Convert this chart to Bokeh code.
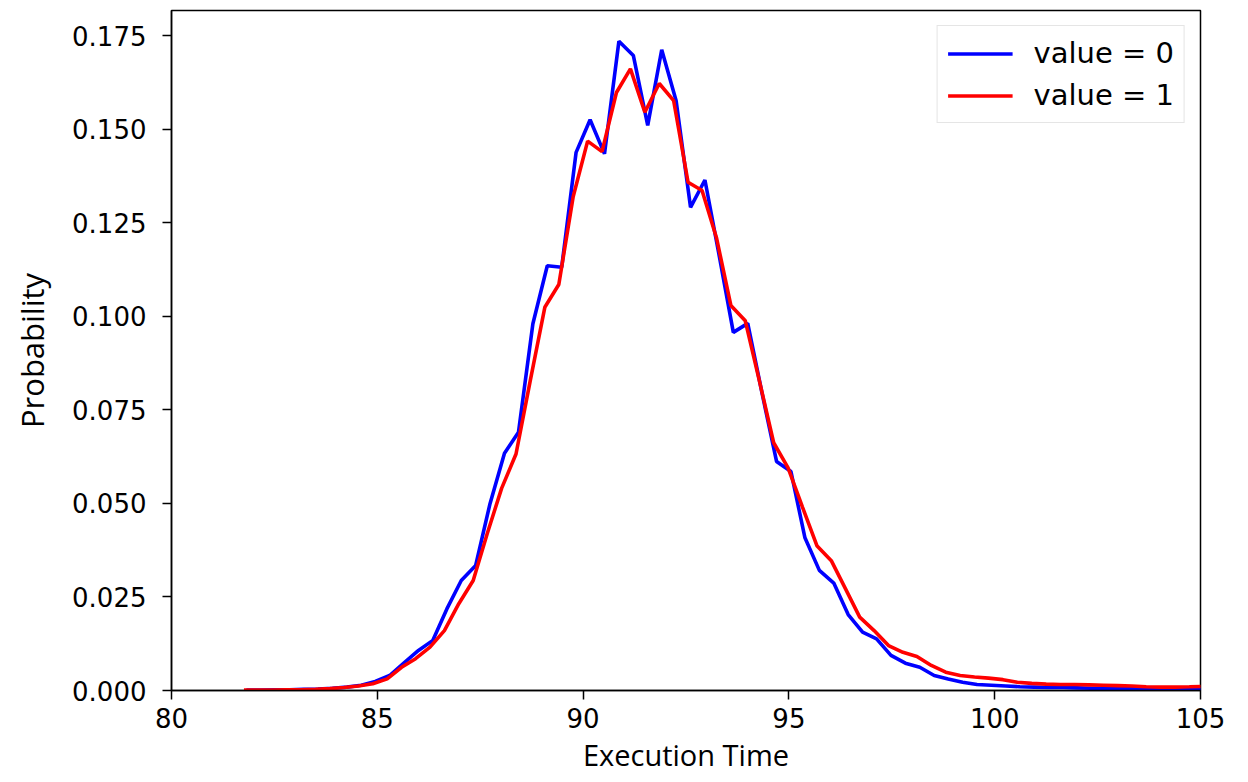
from bokeh.plotting import figure
from bokeh.models import Range1d, FixedTicker, PrintfTickFormatter, Legend, LegendItem
from bokeh.embed import file_html
from bokeh.resources import INLINE

blue_x = [81.82, 82.17, 82.52, 82.87, 83.21, 83.56, 83.91, 84.26, 84.61, 84.95,
          85.30, 85.65, 86.00, 86.35, 86.69, 87.04, 87.39, 87.74, 88.09, 88.43,
          88.78, 89.13, 89.48, 89.83, 90.17, 90.52, 90.87, 91.22, 91.57, 91.91,
          92.26, 92.61, 92.96, 93.31, 93.65, 94.00, 94.35, 94.70, 95.05, 95.39,
          95.74, 96.09, 96.44, 96.79, 97.13, 97.48, 97.83, 98.18, 98.53, 98.87,
          99.22, 99.57, 99.92, 100.27, 100.61, 100.96, 101.31, 101.66, 102.01, 102.35,
          102.70, 103.05, 103.40, 103.75, 104.09, 104.44, 104.79, 105.14]
blue_y = [0.0001, 0.0001, 0.0002, 0.0002, 0.0003, 0.0004, 0.0006, 0.0009, 0.0014, 0.0024,
          0.0040, 0.0074, 0.0107, 0.0134, 0.0218, 0.0294, 0.0334, 0.0500, 0.0634, 0.0690,
          0.0980, 0.1135, 0.1131, 0.1438, 0.1525, 0.1434, 0.1735, 0.1697, 0.1510, 0.1712,
          0.1576, 0.1291, 0.1364, 0.1160, 0.0957, 0.0981, 0.0793, 0.0612, 0.0585, 0.0408,
          0.0321, 0.0287, 0.0203, 0.0156, 0.0138, 0.0094, 0.0073, 0.0062, 0.0040, 0.0031,
          0.0022, 0.0016, 0.0014, 0.0012, 0.0010, 0.0009, 0.0008, 0.0008, 0.0007, 0.0006,
          0.0006, 0.0005, 0.0005, 0.0004, 0.0004, 0.0003, 0.0003, 0.0003]

red_x = [81.76, 82.11, 82.45, 82.80, 83.15, 83.50, 83.85, 84.19, 84.54, 84.89,
         85.24, 85.59, 85.93, 86.28, 86.63, 86.98, 87.33, 87.67, 88.02, 88.37,
         88.72, 89.07, 89.41, 89.76, 90.11, 90.46, 90.81, 91.15, 91.50, 91.85,
         92.20, 92.55, 92.89, 93.24, 93.59, 93.94, 94.29, 94.63, 94.98, 95.33,
         95.68, 96.03, 96.37, 96.72, 97.07, 97.42, 97.77, 98.11, 98.46, 98.81,
         99.16, 99.51, 99.85, 100.20, 100.55, 100.90, 101.25, 101.59, 101.94, 102.29,
         102.64, 102.99, 103.33, 103.68, 104.03, 104.38, 104.73, 105.07]
red_y = [0.0001, 0.0001, 0.0001, 0.0002, 0.0002, 0.0003, 0.0005, 0.0008, 0.0012, 0.0018,
         0.0031, 0.0062, 0.0085, 0.0116, 0.0160, 0.0232, 0.0294, 0.0419, 0.0540, 0.0632,
         0.0830, 0.1024, 0.1085, 0.1320, 0.1468, 0.1440, 0.1598, 0.1661, 0.1545, 0.1622,
         0.1576, 0.1358, 0.1336, 0.1210, 0.1029, 0.0988, 0.0824, 0.0662, 0.0595, 0.0490,
         0.0387, 0.0347, 0.0273, 0.0196, 0.0160, 0.0120, 0.0102, 0.0091, 0.0067, 0.0049,
         0.0040, 0.0036, 0.0033, 0.0029, 0.0022, 0.0019, 0.0017, 0.0016, 0.0016, 0.0015,
         0.0014, 0.0013, 0.0012, 0.0010, 0.0009, 0.0009, 0.0010, 0.0011]

x_ticks = [80, 85, 90, 95, 100, 105]
y_ticks = [0.0, 0.025, 0.05, 0.075, 0.1, 0.125, 0.15, 0.175]
labels = ["value = 0", "value = 1"]

p = figure(width=1248, height=782, output_backend="svg", toolbar_location=None,
           x_range=Range1d(80, 105), y_range=Range1d(0, 0.1817),
           min_border_left=171, min_border_right=48, min_border_top=10, min_border_bottom=92)
p.background_fill_color = "white"
p.border_fill_color = "white"
p.outline_line_color = "black"
p.outline_line_width = 1.5
p.grid.visible = False

r0 = p.line(blue_x, blue_y, line_color="#0000ff", line_width=3.6)
r1 = p.line(red_x, red_y, line_color="#ff0000", line_width=3.6)

for ax in (p.xaxis[0], p.yaxis[0]):
    ax.axis_line_color = "black"
    ax.axis_line_width = 1.5
    ax.major_tick_line_width = 1.5
    ax.major_tick_out = 9
    ax.major_tick_in = 0
    ax.minor_tick_line_color = None
    ax.major_label_text_font = "DejaVu Sans"
    ax.major_label_text_font_size = "26px"
    ax.major_label_text_color = "black"
    ax.axis_label_text_font = "Open Sans"
    ax.axis_label_text_font_style = "normal"
    ax.axis_label_text_color = "black"

p.xaxis.axis_label_text_font_size = "29px"
p.yaxis.axis_label_text_font_size = "31px"
p.xaxis.ticker = FixedTicker(ticks=x_ticks)
p.yaxis.ticker = FixedTicker(ticks=y_ticks)
p.yaxis.formatter = PrintfTickFormatter(format="%.3f")
p.xaxis.major_label_standoff = 8
p.yaxis.major_label_standoff = 16
p.xaxis.axis_label_standoff = 4
p.yaxis.axis_label_standoff = 16
p.xaxis.axis_label = "Execution Time"
p.yaxis.axis_label = "Probability"

legend = Legend(items=[LegendItem(label=labels[0], renderers=[r0]),
                       LegendItem(label=labels[1], renderers=[r1])],
                location="top_right")
legend.margin = 15
legend.padding = 10
legend.spacing = 8
legend.glyph_width = 65
legend.glyph_height = 31
legend.label_standoff = 21
legend.label_text_font = "DejaVu Sans"
legend.label_text_font_size = "29px"
legend.label_text_color = "black"
legend.border_line_color = "#cccccc"
legend.border_line_width = 1.5
legend.background_fill_alpha = 1.0
p.add_layout(legend)

open("out.html", "w").write(file_html(p, INLINE))
